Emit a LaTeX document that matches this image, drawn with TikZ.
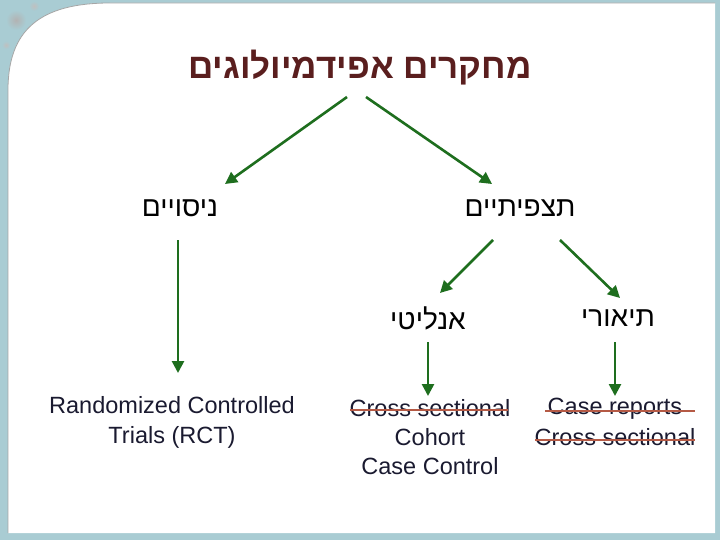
\documentclass[tikz,border=0pt]{standalone}
\usepackage{fontspec}
\setmainfont{Liberation Sans}
\TeXXeTstate=1
\newfontfamily\hebfont[Script=Hebrew]{Liberation Sans}
\usetikzlibrary{arrows.meta}
\definecolor{frame}{HTML}{A9CCD3}
\definecolor{title}{HTML}{5A1E1E}
\definecolor{arr}{HTML}{1E6E1E}
\definecolor{txt}{HTML}{1A1A30}
\definecolor{strike}{HTML}{B55A45}
\begin{document}
\begin{tikzpicture}[x=1pt,y=-1pt,
  ar/.style={draw=arr,line width=2.6pt,-{Triangle[length=12pt,width=12pt]}},
  heb/.style={font=\hebfont\fontsize{28}{30}\selectfont,text=black},
  en/.style={font=\fontsize{23.5}{26}\selectfont,text=txt,inner sep=0pt},
  st/.style={draw=strike,line width=1.5pt}]
\useasboundingbox (0,0) rectangle (720,540);
\fill[frame] (0,0) rectangle (720,540);
\fill[white] (8,533) -- (8,90) .. controls (8,30) and (40,3) .. (110,3) -- (715,3) -- (715,533) -- cycle;
\draw[gray!70,line width=0.8pt] (8,533) -- (8,90) .. controls (8,30) and (40,3) .. (110,3) -- (715,3);
\shade[inner color=gray!60,outer color=frame] (16,20) circle (10);
\shade[inner color=gray!50,outer color=frame] (34,6) circle (5);
\shade[inner color=gray!50,outer color=frame] (6,45) circle (4);
\node[font=\hebfont\fontsize{35}{38}\selectfont\bfseries,text=title] (t) at (360,68) {\beginR מחקרים אפידמיולוגים\endR};
\node[heb] (n) at (180,208) {\beginR ניסויים\endR};
\node[heb] (o) at (520,208) {\beginR תצפיתיים\endR};
\node[heb] (a) at (428,318) {\beginR אנליטי\endR};
\node[heb] (d) at (618,318) {\beginR תיאורי\endR};
\node[en,align=center] (r) at (172,422) {Randomized Controlled\\[4pt]Trials (RCT)};
\node[en] (c1) at (430,408) {Cross sectional};
\node[en] (c2) at (430,437) {Cohort};
\node[en] (c3) at (430,466) {Case Control};
\node[en] (d1) at (615,409) {Case reports};
\node[en] (d2) at (615,437) {Cross sectional};
\coordinate (t1) at (347,97); \coordinate (t2) at (366,97);
\draw[ar] (t1) -- (225,184);
\draw[ar] (t2) -- (492,184);
\draw[ar] (178,240) -- (178,373);
\draw[ar] (493,240) -- (440,293);
\draw[ar] (560,240) -- (620,298);
\draw[ar] (428,342) -- (428,396);
\draw[ar] (615,342) -- (615,396);
\draw[st] (350,410) -- (508,410);
\draw[st] (545,411) -- (695,411);
\draw[st] (535,440) -- (695,440);
\end{tikzpicture}
\end{document}
